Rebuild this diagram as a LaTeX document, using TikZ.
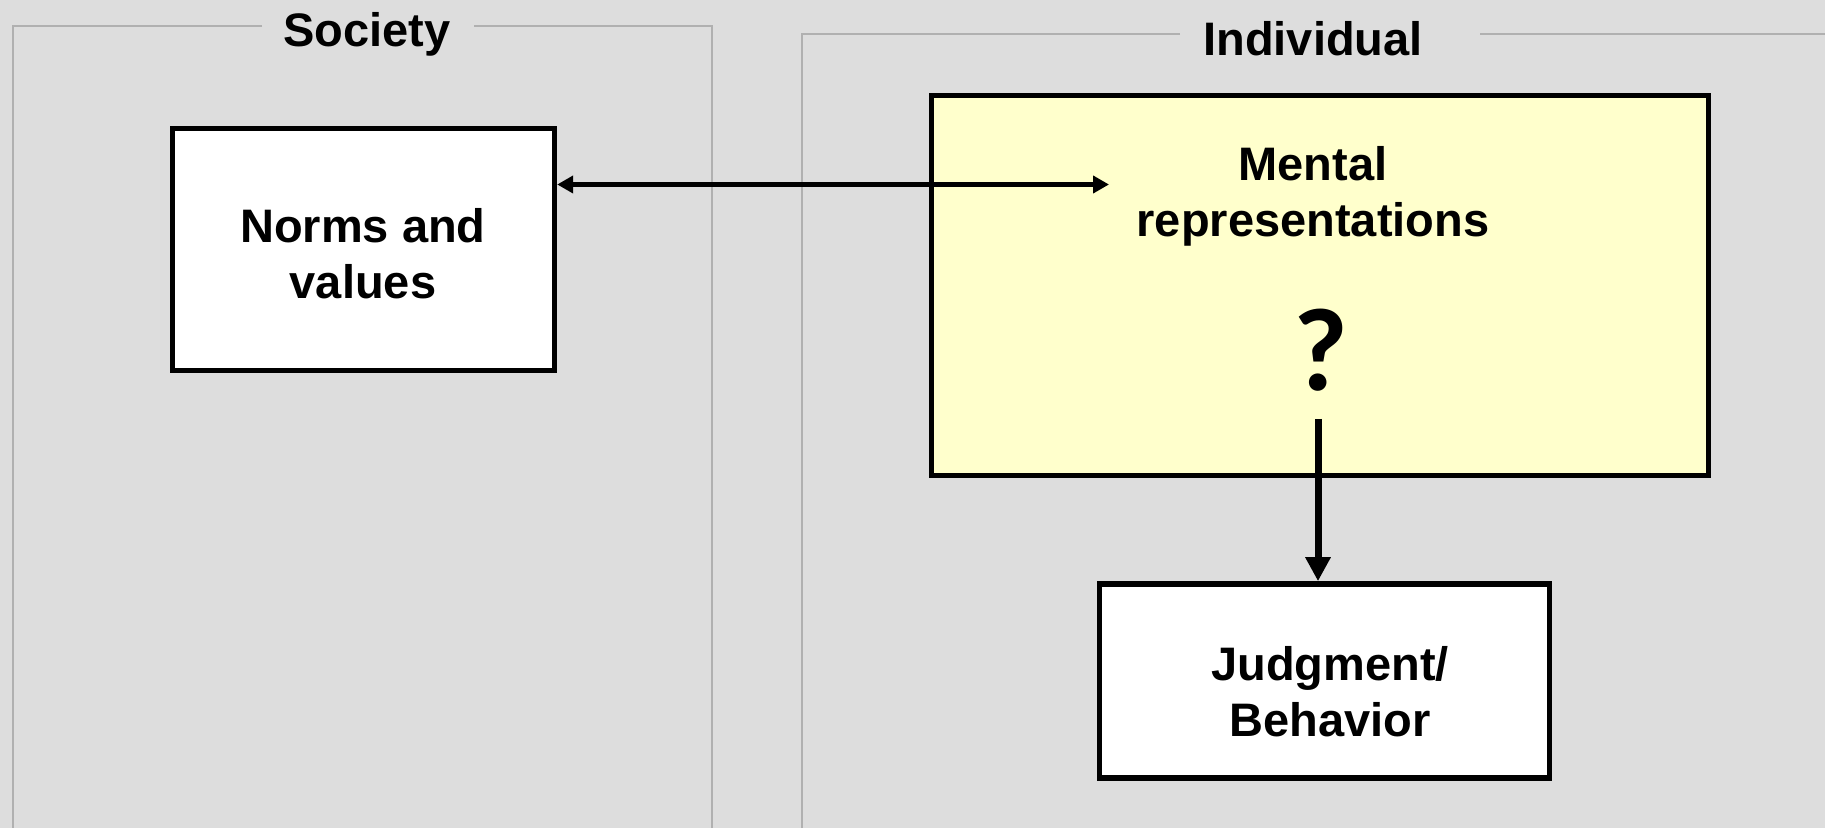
\documentclass[tikz,border=0pt]{standalone}
\usepackage{fontspec}
\setmainfont{Liberation Sans}
\newfontfamily\qfont{Carlito}
\usetikzlibrary{arrows.meta}
\definecolor{bgcol}{HTML}{DDDDDD}
\definecolor{framecol}{HTML}{B0B0B0}
\definecolor{yellowbox}{HTML}{FFFFCC}
\begin{document}
\begin{tikzpicture}[x=0.5pt,y=-0.5pt,
  frameline/.style={draw=framecol, line width=1pt},
  box/.style={draw=black, line width=2.8pt, fill=white, inner sep=0pt},
  lbl/.style={font=\fontsize{23.5}{28}\selectfont\bfseries, align=center, inner sep=0pt},
  thinarrow/.style={line width=2.8pt, {Triangle[length=8pt,width=8.5pt]}-{Triangle[length=8pt,width=8.5pt]}},
  thickarrow/.style={line width=3.5pt, -{Triangle[length=12pt,width=12pt]}}]
\fill[bgcol] (0,0) rectangle (1825,828);
\useasboundingbox (0,0) rectangle (1825,828);
% group frames
\draw[frameline] (262,26) -- (13,26) -- (13,835);
\draw[frameline] (474,26) -- (712,26) -- (712,835);
\draw[frameline] (1180,34) -- (802,34) -- (802,835);
\draw[frameline] (1480,34) -- (1835,34);
% titles
\node[lbl, anchor=base] (society) at (367,47) {Society};
\node[lbl, anchor=base] (individual) at (1313,56) {Individual};
% boxes
\node[box, minimum width=190.9pt, minimum height=121pt] (norms) at (363.5,249.5) {};
\node[box, fill=yellowbox, minimum width=388.4pt, minimum height=190pt] (mental) at (1320,285.5) {};
\node[box, minimum width=225pt, minimum height=97pt] (judgment) at (1324.5,681) {};
% texts
\node[lbl] (normstxt) at (363,254) {Norms and\\values};
\node[lbl] (mentaltxt) at (1313,196) {Mental\\representations};
\node[lbl] (judgtxt) at (1330,692) {Judgment/\\Behavior};
\node[font=\qfont\bfseries\fontsize{59}{60}\selectfont, inner sep=0pt] (qmark) at (1321,350) {?};
% connectors
\coordinate (mentalin) at (1109,184.5);
\draw[thinarrow] (norms.east |- mentalin) -- (mentalin);
\coordinate (qbelow) at (1318,419);
\draw[thickarrow] (qbelow) -- (qbelow |- judgment.north);
\end{tikzpicture}
\end{document}
